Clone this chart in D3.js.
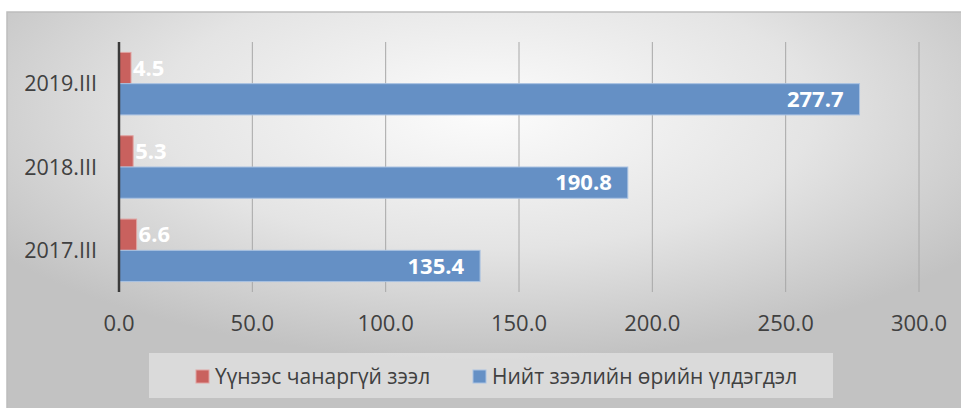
<!DOCTYPE html>
<html lang="mn">
<head>
    <meta charset="UTF-8">
    <title>Зээлийн өрийн үлдэгдэл</title>
    <script src="https://d3js.org/d3.v7.min.js"></script>
    <style>
        body { margin: 0; background: #fff; }
        text { font-family: "Open Sans", "Noto Sans", sans-serif; }
        .cat-label { font-size: 21.5px; fill: #404040; }
        .tick-label { font-size: 22px; fill: #404040; }
        .value-label { font-size: 22px; font-weight: bold; fill: #fff; }
        .legend-label { font-size: 21px; fill: #404040; }
    </style>
</head>
<body>
    <svg width="961" height="408"></svg>

    <script>
        // Chart data
        const categories = ["2019.III", "2018.III", "2017.III"];
        const seriesNames = ["Үүнээс чанаргүй зээл", "Нийт зээлийн өрийн үлдэгдэл"];
        const nplValues = [4.5, 5.3, 6.6];
        const totalValues = [277.7, 190.8, 135.4];
        const tickValues = [0, 50, 100, 150, 200, 250, 300];

        const colors = ["#c9615e", "#6590c5"];
        const strokes = ["#e0a3a1", "#a9c2e2"];

        const svg = d3.select("svg");

        // Background gradient like the Office chart area
        const defs = svg.append("defs");
        const grad = defs.append("radialGradient")
            .attr("id", "bg")
            .attr("cx", "0.5").attr("cy", "0.25")
            .attr("r", "0.62");
        grad.append("stop").attr("offset", "0").attr("stop-color", "#fcfcfc");
        grad.append("stop").attr("offset", "0.55").attr("stop-color", "#e4e4e4");
        grad.append("stop").attr("offset", "1").attr("stop-color", "#c2c2c2");

        svg.append("rect")
            .attr("x", 7).attr("y", 12)
            .attr("width", 960).attr("height", 400)
            .attr("fill", "url(#bg)")
            .attr("stroke", "#bdbdbd")
            .attr("stroke-width", 1.5);

        // Plot area
        const plot = { left: 119, right: 919, top: 42, bottom: 292 };

        const x = d3.scaleLinear()
            .domain([0, 300])
            .range([plot.left, plot.right]);

        const y = d3.scaleBand()
            .domain(categories)
            .range([plot.top, plot.bottom])
            .paddingInner(0.25)
            .paddingOuter(0.125);

        const ySub = d3.scaleBand()
            .domain([0, 1])
            .range([0, y.bandwidth()]);

        // Gridlines
        svg.append("g")
            .selectAll("line")
            .data(tickValues.slice(1))
            .join("line")
            .attr("x1", d => x(d)).attr("x2", d => x(d))
            .attr("y1", plot.top).attr("y2", plot.bottom)
            .attr("stroke", "#a8a8a8")
            .attr("stroke-width", 1);

        // Tick labels
        svg.append("g")
            .selectAll("text")
            .data(tickValues)
            .join("text")
            .attr("class", "tick-label")
            .attr("x", d => x(d))
            .attr("y", 331)
            .attr("text-anchor", "middle")
            .text(d3.format(".1f"));

        // Category labels
        svg.append("g")
            .selectAll("text")
            .data(categories)
            .join("text")
            .attr("class", "cat-label")
            .attr("x", 97)
            .attr("y", d => y(d) + y.bandwidth() / 2)
            .attr("dy", "0.35em")
            .attr("text-anchor", "end")
            .text(d => d);

        // Bars
        const series = [nplValues, totalValues];
        series.forEach((vals, si) => {
            const g = svg.append("g");
            g.selectAll("rect")
                .data(categories)
                .join("rect")
                .attr("x", x(0))
                .attr("y", d => y(d) + ySub(si))
                .attr("width", (d, i) => x(vals[i]) - x(0))
                .attr("height", ySub.bandwidth())
                .attr("fill", colors[si])
                .attr("stroke", strokes[si])
                .attr("stroke-width", 1);

            g.selectAll("text")
                .data(categories)
                .join("text")
                .attr("class", "value-label")
                .attr("x", (d, i) => si === 0 ? x(vals[i]) + 2 : x(vals[i]) - 16)
                .attr("y", d => y(d) + ySub(si) + ySub.bandwidth() / 2)
                .attr("dy", "0.35em")
                .attr("text-anchor", si === 0 ? "start" : "end")
                .text((d, i) => d3.format(".1f")(vals[i]));
        });

        // Zero axis line
        svg.append("line")
            .attr("x1", x(0)).attr("x2", x(0))
            .attr("y1", plot.top).attr("y2", plot.bottom)
            .attr("stroke", "#3a3a3a")
            .attr("stroke-width", 2.5);

        // Legend
        svg.append("rect")
            .attr("x", 149).attr("y", 353)
            .attr("width", 684).attr("height", 45)
            .attr("fill", "#ffffff")
            .attr("fill-opacity", 0.4);

        const legendX = [196, 473];
        const legend = svg.append("g")
            .selectAll("g")
            .data(seriesNames)
            .join("g")
            .attr("transform", (d, i) => `translate(${legendX[i]},370)`);

        legend.append("rect")
            .attr("width", 13).attr("height", 13)
            .attr("fill", (d, i) => colors[i])
            .attr("stroke", (d, i) => strokes[i])
            .attr("stroke-width", 1);

        legend.append("text")
            .attr("class", "legend-label")
            .attr("x", 19)
            .attr("y", 6.5)
            .attr("dy", "0.35em")
            .text(d => d);
    </script>
</body>
</html>
